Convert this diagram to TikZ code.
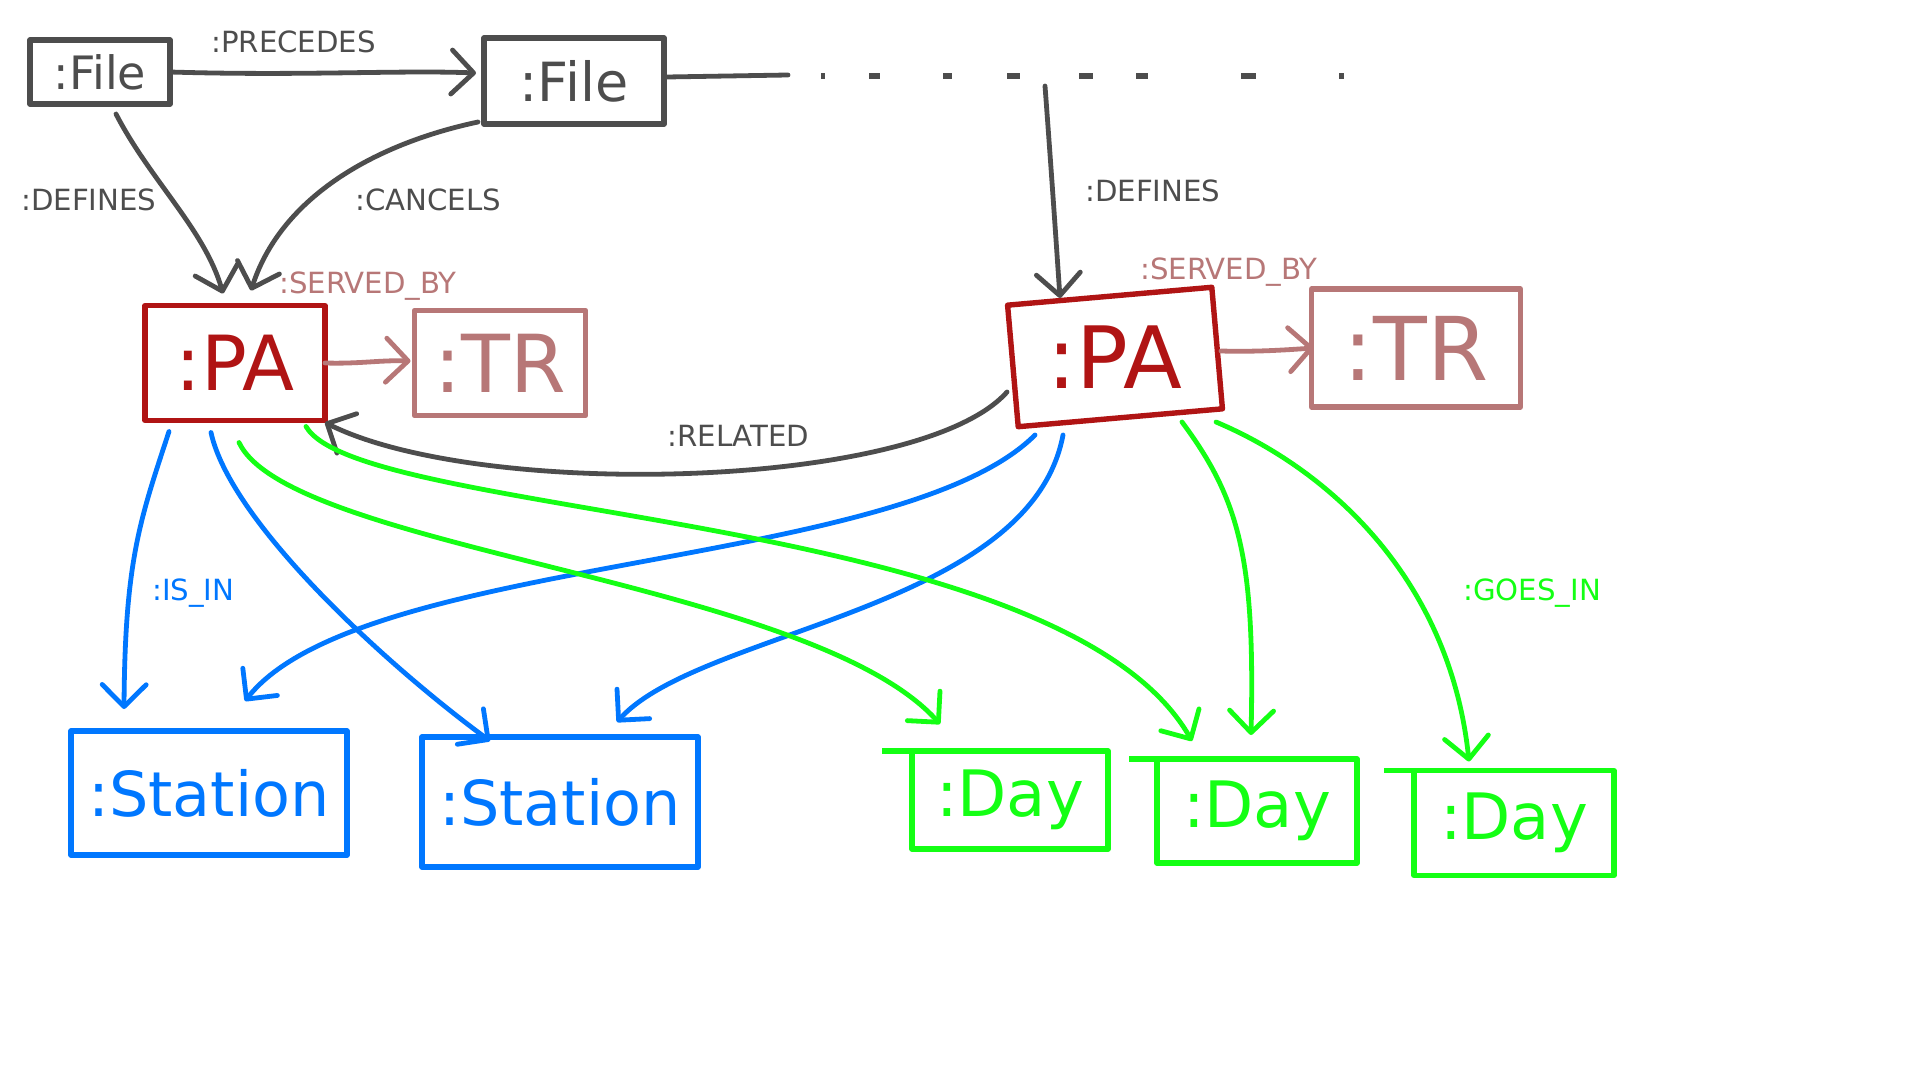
\documentclass[tikz,border=0pt]{standalone}
\usepackage{fontspec}
\usepackage{graphicx}
\setmainfont{DejaVu Sans}
\usetikzlibrary{arrows.meta,calc}
\definecolor{cgray}{RGB}{77,77,77}
\definecolor{cred}{RGB}{176,20,20}
\definecolor{crose}{RGB}{183,119,119}
\definecolor{cblue}{RGB}{0,119,255}
\definecolor{cgreen}{RGB}{20,255,20}
\begin{document}
\begin{tikzpicture}[x=0.5pt,y=-0.5pt,
  every node/.style={inner sep=0pt},
  box/.style={draw, line width=2.7pt, line join=round, rectangle, outer sep=0pt},
  ln/.style={line width=2.4pt, line cap=round, line join=round},
  arr/.style={ln, -{Straight Barb[length=11pt,width=22pt,line cap=round,line join=round]}},
  lbl/.style={anchor=west, font=\fontsize{14.6pt}{17pt}\selectfont, text height=10.7pt, text depth=0pt},
]
\fill[white] (0,0) rectangle (1920,1080);
\useasboundingbox (0,0) rectangle (1920,1080);

% nodes
\node[box, draw=cgray, text=cgray, minimum width=70pt, minimum height=32pt, font=\fontsize{23pt}{23pt}\selectfont] (file1) at (100,72) {:File};
\node[box, draw=cgray, text=cgray, minimum width=90pt, minimum height=43pt, font=\fontsize{27pt}{27pt}\selectfont] (file2) at (574,81) {:File};
\node[box, draw=cred, text=cred, minimum width=90pt, minimum height=57.5pt, font=\fontsize{38pt}{38pt}\selectfont] (pa1) at (235,363) {:PA};
\node[box, draw=crose, text=crose, minimum width=85.5pt, minimum height=52.5pt, font=\fontsize{40pt}{40pt}\selectfont] (tr1) at (500,363) {:TR};
\node[box, draw=cred, text=cred, minimum width=102.5pt, minimum height=61pt, rotate=5, font=\fontsize{43pt}{43pt}\selectfont] (pa2) at (1115,357) {\rotatebox{-5}{:PA}};
\node[box, draw=crose, text=crose, minimum width=104.5pt, minimum height=59pt, font=\fontsize{44pt}{44pt}\selectfont] (tr2) at (1416,348) {:TR};
\node[box, draw=cblue, text=cblue, minimum width=138pt, minimum height=62pt, font=\fontsize{31pt}{31pt}\selectfont] (station1) at (209,793) {:Station};
\node[box, draw=cblue, text=cblue, minimum width=138pt, minimum height=65pt, font=\fontsize{31pt}{31pt}\selectfont] (station2) at (560,802) {:Station};
\node[box, draw=cgreen, text=cgreen, minimum width=98pt, minimum height=49pt, font=\fontsize{32pt}{32pt}\selectfont] (day1) at (1010,800) {:Day};
\node[box, draw=cgreen, text=cgreen, minimum width=100pt, minimum height=52pt, font=\fontsize{32pt}{32pt}\selectfont] (day2) at (1257,811) {:Day};
\node[box, draw=cgreen, text=cgreen, minimum width=100pt, minimum height=52.5pt, font=\fontsize{32pt}{32pt}\selectfont] (day3) at (1514,823) {:Day};

% overhanging top strokes of the Day boxes
\draw[box, cgreen] ($(day1.north west)+(-30,0)$) -- (day1.north west);
\draw[box, cgreen] ($(day2.north west)+(-28,0)$) -- (day2.north west);
\draw[box, cgreen] ($(day3.north west)+(-30,0)$) -- (day3.north west);

% top line and dashes
\coordinate (dashstart) at (788,75);
\draw[ln, cgray] ($(file2.east)+(3,-4)$) -- (dashstart);
\foreach \a/\b in {821/825, 869/880, 943/952, 1007/1020, 1079/1093, 1136/1148, 1241/1256, 1339/1344}
  \draw[line width=2.6pt, cgray] (\a,76) -- (\b,76);

% gray connectors
\draw[arr, cgray] (file1.east) .. controls (300,76) and (400,70) .. ($(file2.west)+(-8,-8)$);
\draw[arr, cgray] ($(file1.south)+(16,10)$) .. controls (150,180) and (205,230) .. ($(pa1.north)+(-12,-12)$);
\draw[arr, cgray] ($(file2.south west)+(-6,-2)$) .. controls (370,145) and (280,200) .. ($(pa1.north)+(16,-15)$);
\coordinate (d2start) at (1045,86);
\draw[arr, cgray] (d2start) .. controls (1052,180) and (1056,240) .. ($(pa2.center)+(-55,-59)$);
\draw[arr, cgray] ($(pa2.center)+(-108,35)$) .. controls (920,490) and (480,500) .. ($(pa1.south east)+(0,2)$);

% served_by
\draw[arr, crose] (pa1.east) .. controls (360,364) and (380,360) .. ($(tr1.west)+(-4,-2)$);
\draw[arr, crose] ($(pa2.center)+(106,-6)$) .. controls (1255,352) and (1285,350) .. ($(tr2.west)+(2,0)$);

% is_in (blue)
\draw[arr, cblue] ($(pa1.south)+(-66,11)$) .. controls (140,520) and (125,560) .. ($(station1.north)+(-85,-22)$);
\draw[arr, cblue] ($(pa1.south)+(-24,12)$) .. controls (230,520) and (380,660) .. ($(station2.north)+(-70,4)$);
\draw[arr, cblue] ($(pa2.center)+(-80,78)$) .. controls (900,570) and (360,555) .. ($(station1.north)+(36,-30)$);
\draw[arr, cblue] ($(pa2.center)+(-52,78)$) .. controls (1030,610) and (700,630) .. ($(station2.north)+(57,-15)$);

% goes_in (green)
\draw[arr, cgreen] ($(pa1.south)+(4,22)$) .. controls (290,550) and (810,580) .. ($(day1.north)+(-70,-27)$);
\draw[arr, cgreen] ($(pa1.south)+(71,6)$) .. controls (360,520) and (1060,510) .. ($(day2.north)+(-65,-18)$);
\draw[arr, cgreen] ($(pa2.center)+(67,65)$) .. controls (1240,500) and (1255,560) .. ($(day2.north)+(-6,-24)$);
\draw[arr, cgreen] ($(pa2.center)+(101,65)$) .. controls (1330,470) and (1450,580) .. ($(day3.north)+(-45,-9)$);

% labels
\node[lbl, text=cgray] (lprec) at (211,42) {:PRECEDES};
\node[lbl, text=cgray] (ldef1) at (21,200) {:DEFINES};
\node[lbl, text=cgray] (lcanc) at (355,200) {:CANCELS};
\node[lbl, text=cgray] (ldef2) at (1085,191) {:DEFINES};
\node[lbl, text=crose] (lserv1) at (279,283) {:SERVED\_BY};
\node[lbl, text=crose] (lserv2) at (1140,269) {:SERVED\_BY};
\node[lbl, text=cgray] (lrel) at (667,436) {:RELATED};
\node[lbl, text=cblue] (lisin) at (152,590) {:IS\_IN};
\node[lbl, text=cgreen] (lgoes) at (1463,590) {:GOES\_IN};
\end{tikzpicture}
\end{document}
